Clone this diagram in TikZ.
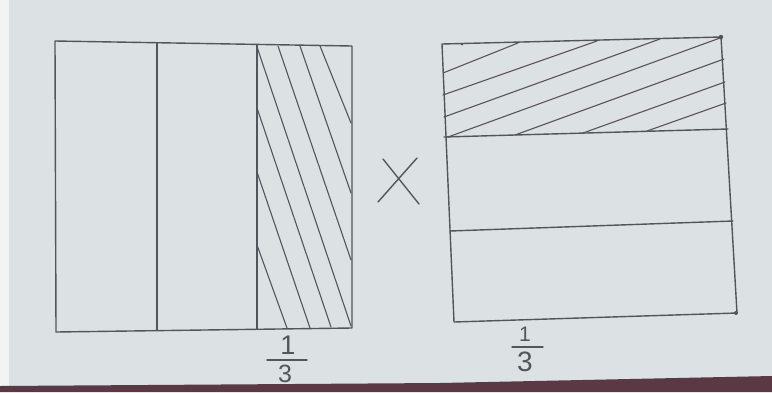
\documentclass[tikz,border=0pt]{standalone}
\usepackage{fontspec}
\setmainfont{Liberation Sans}
\begin{document}
\begin{tikzpicture}[x=1pt,y=-1pt,
  pen/.style={draw=penc,line width=1.4pt,line cap=round,line join=round},
  hatchL/.style={draw=penc,line width=1.1pt,line cap=round},
  hatchR/.style={draw=hatchc,line width=1.1pt,line cap=round},
  digit/.style={text=penc,inner sep=0pt,font=\fontsize{#1}{#1}\selectfont},
  fbar/.style={draw=penc,line width=1.4pt,line cap=round}]
\definecolor{paper}{HTML}{DCE1E4}
\definecolor{penc}{HTML}{50565C}
\definecolor{hatchc}{HTML}{5E5258}
\definecolor{strip}{HTML}{F2F4F4}
\definecolor{floor}{HTML}{5A3944}
% background
\fill[paper] (0,0) rectangle (772,392);
\useasboundingbox (0,0) rectangle (772,392);
\fill[strip] (0,0) rectangle (9,392);
\fill[floor] (0,386) -- (440,383) -- (772,376) -- (772,392) -- (0,392) -- cycle;
% left square
\coordinate (LTL) at (55,41);
\coordinate (LTR) at (352,46);
\coordinate (LBR) at (352,328);
\coordinate (LBL) at (56,332);
\coordinate (LD1t) at (157,43);
\coordinate (LD1b) at (157,330);
\coordinate (LD2t) at (257,45);
\coordinate (LD2b) at (257,329);
\draw[pen] (LTL) -- (LTR) -- (LBR) -- (LBL) -- cycle;
\draw[pen] (LD1t) -- (LD1b);
\draw[pen] (LD2t) -- (LD2b);
% left hatch
\draw[hatchL] (257,47) -- (351,326);
\draw[hatchL] (278,46) -- (351,260);
\draw[hatchL] (300,46) -- (351,193);
\draw[hatchL] (320,46) -- (351,123);
\draw[hatchL] (257,108) -- (331,327);
\draw[hatchL] (257,172) -- (310,328);
\draw[hatchL] (257,245) -- (287,328);
% times sign
\coordinate (X1) at (383,159);
\coordinate (X2) at (419,204);
\coordinate (X3) at (417,158);
\coordinate (X4) at (378,202);
\draw[pen] (X1) -- (X2);
\draw[pen] (X3) -- (X4);
% right square
\coordinate (RTL) at (442,44);
\coordinate (RTR) at (721,37);
\coordinate (RBR) at (737,313);
\coordinate (RBL) at (454,322);
\draw[pen] (RTL) -- (RTR) -- (RBR) -- (RBL) -- cycle;
\coordinate (RD1l) at (444,137);
\coordinate (RD1r) at (728,129);
\coordinate (RD2l) at (450,231);
\coordinate (RD2r) at (733,221);
\draw[pen] (RD1l) -- (RD1r);
\draw[pen] (RD2l) -- (RD2r);
\fill[penc] (721,37) circle (2.2);
\fill[penc] (736,313) circle (2);
\fill[penc] (462,44) circle (1.5);
% right hatch
\draw[hatchR] (443,73) -- (518,43);
\draw[hatchR] (443,95) -- (597,41);
\draw[hatchR] (444,117) -- (660,39);
\draw[hatchR] (448,137) -- (720,38);
\draw[hatchR] (515,135) -- (724,59);
\draw[hatchR] (583,133) -- (725,82);
\draw[hatchR] (647,131) -- (726,103);
% fractions
\node[digit=27] (LN) at (288,345) {1};
\node[digit=25] (LDn) at (285,374) {3};
\coordinate (LBa) at (267,360);
\coordinate (LBb) at (307,360);
\draw[fbar] (LBa) -- (LBb);
\node[digit=21] (RN) at (525,334.5) {1};
\node[digit=28] (RDn) at (525,362) {3};
\coordinate (RBa) at (512,347);
\coordinate (RBb) at (543,347);
\draw[fbar] (RBa) -- (RBb);
\end{tikzpicture}
\end{document}
